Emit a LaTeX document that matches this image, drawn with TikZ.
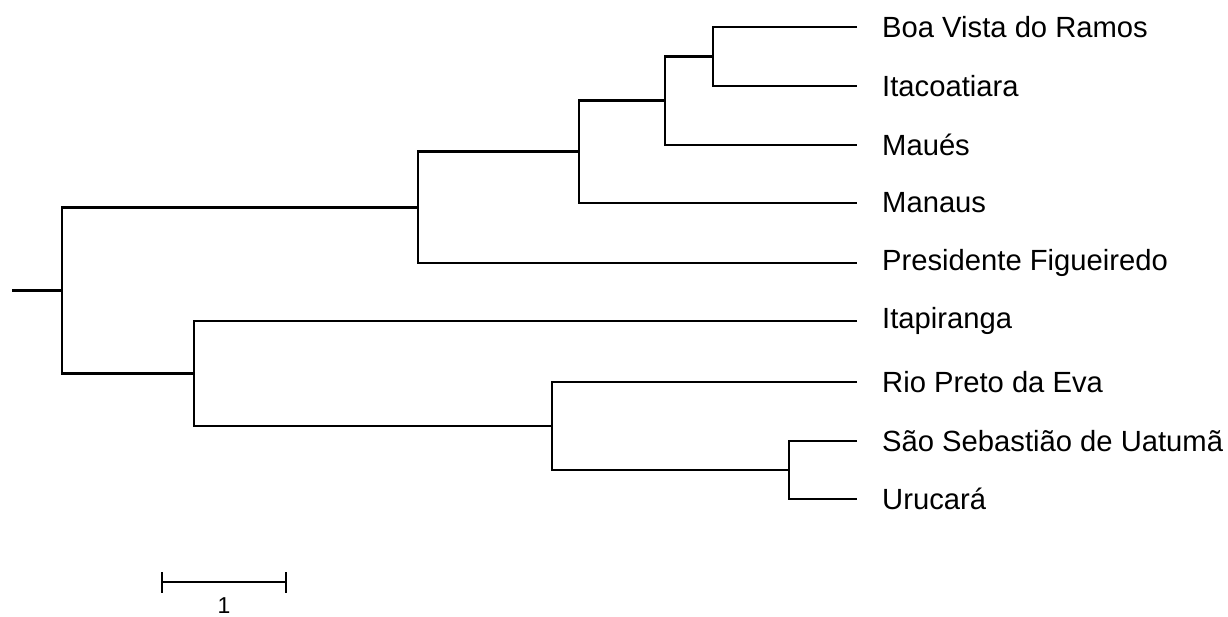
\documentclass[tikz,border=0pt]{standalone}
\usepackage{fontspec}
\setmainfont{Liberation Sans}
\begin{document}
\begin{tikzpicture}[x=1pt,y=-1pt,
  br/.style={line width=2.9pt, line join=miter, line cap=butt},
  lbl/.style={anchor=west, inner sep=0pt, font=\fontsize{29.2}{32}\selectfont},
  scl/.style={anchor=north, inner sep=0pt, font=\fontsize{23}{26}\selectfont}]
\useasboundingbox (0,0) rectangle (1228,617);
% leaves
\coordinate (L1) at (857,27);
\coordinate (L2) at (857,86);
\coordinate (L3) at (857,145);
\coordinate (L4) at (857,203);
\coordinate (L5) at (857,263);
\coordinate (L6) at (857,321);
\coordinate (L7) at (857,382);
\coordinate (L8) at (857,441);
\coordinate (L9) at (857,499);
% internal nodes
\coordinate (n1) at (713,56.5);
\coordinate (n2) at (665,100.8);
\coordinate (n3) at (579,151.9);
\coordinate (n4) at (418,207.4);
\coordinate (n9) at (789,470);
\coordinate (n8) at (552,426);
\coordinate (n7) at (194,373.5);
\coordinate (rt) at (62,290.5);
\coordinate (st) at (12,290.5);
% branches
\draw[br] (L1) -| (n1) |- (L2);
\draw[br] (n1) -| (n2) |- (L3);
\draw[br] (n2) -| (n3) |- (L4);
\draw[br] (n3) -| (n4) |- (L5);
\draw[br] (L8) -| (n9) |- (L9);
\draw[br] (L7) -| (n8) |- (n9);
\draw[br] (L6) -| (n7) |- (n8);
\draw[br] (n4) -| (rt) |- (n7);
\draw[br] (st) -- (rt);
% labels
\node[lbl] (t1) at (882,27) {Boa Vista do Ramos};
\node[lbl] (t2) at (882,86) {Itacoatiara};
\node[lbl] (t3) at (882,145) {Maués};
\node[lbl] (t4) at (882,203) {Manaus};
\node[lbl] (t5) at (882,263) {Presidente Figueiredo};
\node[lbl] (t6) at (882,321) {Itapiranga};
\node[lbl] (t7) at (882,382) {Rio Preto da Eva};
\node[lbl] (t8) at (882,441) {São Sebastião de Uatumã};
\node[lbl] (t9) at (882,499) {Urucará};
% scale bar
\coordinate (sa) at (162,582);
\coordinate (sb) at (286,582);
\coordinate (sa1) at (162,572);
\coordinate (sa2) at (162,593);
\coordinate (sb1) at (286,572);
\coordinate (sb2) at (286,593);
\draw[br] (sa) -- (sb);
\draw[br] (sa1) -- (sa2);
\draw[br] (sb1) -- (sb2);
\node[scl] (sl) at (224,597) {1};
\end{tikzpicture}
\end{document}
